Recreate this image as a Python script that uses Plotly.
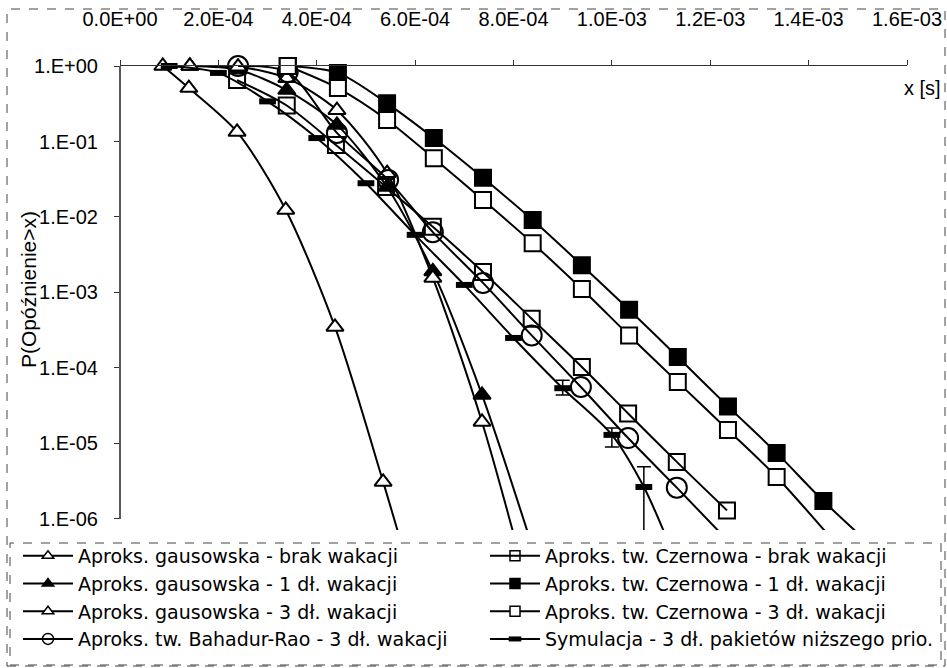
import plotly.graph_objects as go

# x values in units of 1E-4 s
gaus_brak_x = [0.87, 1.40, 2.38, 3.37, 4.37, 5.35, 6.34]
gaus_brak_y = [1.0, 0.51, 0.134, 0.0124, 3.5e-4, 3.1e-6, 1.9e-8]

gaus_1dl_x = [1.42, 2.40, 3.39, 4.41, 5.43, 6.36, 7.36, 8.35]
gaus_1dl_y = [1.0, 0.89, 0.48, 0.166, 0.025, 1.9e-3, 4.4e-5, 5.0e-7]

gaus_3dl_x = [1.42, 2.40, 3.39, 4.41, 5.43, 6.36, 7.36, 8.35]
gaus_3dl_y = [1.0, 0.98, 0.69, 0.26, 0.038, 1.56e-3, 1.93e-5, 9.0e-8]

br_3dl_x = [2.40, 3.41, 4.41, 5.45, 6.36, 7.38, 8.37, 9.37, 10.33, 11.32, 12.34]
br_3dl_y = [1.0, 0.83, 0.13, 0.031, 6.3e-3, 1.34e-3, 2.7e-4, 5.6e-5, 1.18e-5, 2.6e-6, 5.3e-7]

cz_brak_x = [2.38, 3.39, 4.39, 5.41, 6.36, 7.38, 8.37, 9.39, 10.33, 11.32, 12.34]
cz_brak_y = [0.65, 0.30, 0.090, 0.025, 7.4e-3, 1.87e-3, 4.5e-4, 1.03e-4, 2.5e-5, 5.7e-6, 1.3e-6]

cz_1dl_x = [3.41, 4.43, 5.43, 6.38, 7.38, 8.39, 9.39, 10.35, 11.34, 12.36, 13.35, 14.30, 15.30]
cz_1dl_y = [1.0, 0.81, 0.32, 0.111, 0.033, 9.1e-3, 2.3e-3, 5.9e-4, 1.4e-4, 3.1e-5, 7.5e-6, 1.73e-6, 4.3e-7]

cz_3dl_x = [3.41, 4.43, 5.43, 6.38, 7.38, 8.39, 9.39, 10.35, 11.34, 12.36, 13.35, 14.35]
cz_3dl_y = [1.0, 0.51, 0.193, 0.060, 0.0168, 4.5e-3, 1.11e-3, 2.7e-4, 6.5e-5, 1.51e-5, 3.6e-6, 6.7e-7]

sim_x = [1.0, 2.0, 3.0, 4.0, 5.0, 6.0, 7.0, 8.0, 9.0, 10.0, 10.65, 11.15]
sim_y = [1.0, 0.81, 0.34, 0.111, 0.028, 5.8e-3, 1.26e-3, 2.5e-4, 5.4e-5, 1.30e-5, 2.65e-6, 4.9e-7]
sim_err_plus = [None, None, None, None, None, None, None, None, 1.5e-5, 3.0e-6, 2.25e-6, None]
sim_err_minus = [None, None, None, None, None, None, None, None, 1.0e-5, 4.0e-6, 2.64e-6, None]

x_ticks = [0, 2e-4, 4e-4, 6e-4, 8e-4, 1e-3, 1.2e-3, 1.4e-3, 1.6e-3]
x_tick_labels = ["0.0E+00", "2.0E-04", "4.0E-04", "6.0E-04", "8.0E-04",
                 "1.0E-03", "1.2E-03", "1.4E-03", "1.6E-03"]
y_ticks = [1, 1e-1, 1e-2, 1e-3, 1e-4, 1e-5, 1e-6]
y_tick_labels = ["1.E+00", "1.E-01", "1.E-02", "1.E-03", "1.E-04", "1.E-05", "1.E-06"]

YMIN_LOG = -6.146
CLEAR = "rgba(0,0,0,0)"

fig = go.Figure()


def add_series(x, y, name, leg, rank, symbol, size, lsize, fill, mlw=2, ep=None, em=None):
    xs = [v * 1e-4 for v in x]
    err = None
    if ep is not None:
        err = dict(type="data", array=ep, arrayminus=em, symmetric=False,
                   color="black", thickness=1.5, width=7)
    line = dict(color="black", width=2, shape="spline", smoothing=0.8)
    fig.add_trace(go.Scatter(x=xs, y=y, mode="lines", line=line, error_y=err,
                             hoverinfo="skip", showlegend=False))
    # markers only for points that sit inside the axis range
    vx = [a for a, b in zip(xs, y) if b >= 1e-6]
    vy = [b for b in y if b >= 1e-6]
    marker = dict(symbol=symbol, size=size, color=fill,
                  line=dict(color="black", width=mlw))
    fig.add_trace(go.Scatter(x=vx, y=vy, mode="markers", marker=marker,
                             cliponaxis=False, showlegend=False))
    # legend entry (smaller symbol, like the Excel key)
    lmarker = dict(symbol=symbol, size=lsize, color=fill,
                   line=dict(color="black", width=min(mlw, 5) if mlw > 2 else 1.5))
    fig.add_trace(go.Scatter(x=[None], y=[None], mode="lines+markers",
                             line=dict(color="black", width=2), marker=lmarker,
                             name=name, legend=leg, legendrank=rank))


add_series(gaus_brak_x, gaus_brak_y, "Aproks. gausowska - brak wakacji", "legend", 1,
           "triangle-up", 15, 10, "white")
add_series(gaus_1dl_x, gaus_1dl_y, "Aproks. gausowska - 1 dł. wakacji", "legend", 2,
           "triangle-up", 15, 10, "black")
add_series(gaus_3dl_x, gaus_3dl_y, "Aproks. gausowska - 3 dł. wakacji", "legend", 3,
           "triangle-up", 15, 10, "white")
add_series(br_3dl_x, br_3dl_y, "Aproks. tw. Bahadur-Rao - 3 dł. wakacji", "legend", 4,
           "circle", 20, 11, CLEAR)
add_series(cz_brak_x, cz_brak_y, "Aproks. tw. Czernowa - brak wakacji", "legend2", 1,
           "square", 16, 10, CLEAR)
add_series(cz_1dl_x, cz_1dl_y, "Aproks. tw. Czernowa - 1 dł. wakacji", "legend2", 2,
           "square", 16, 10, "black")
add_series(cz_3dl_x, cz_3dl_y, "Aproks. tw. Czernowa - 3 dł. wakacji", "legend2", 3,
           "square", 16, 10, "white")
add_series(sim_x, sim_y, "Symulacja - 3 dł. pakietów niższego prio.", "legend2", 4,
           "line-ew", 12, 9, "black", mlw=6, ep=sim_err_plus, em=sim_err_minus)

tick_font = dict(family="Liberation Sans, Arial", size=20, color="black")

fig.update_xaxes(range=[0, 1.6e-3], side="top", tickvals=x_ticks, ticktext=x_tick_labels,
                 showline=True, linecolor="#333", linewidth=1, ticks="outside", ticklen=5,
                 tickcolor="#333", tickfont=tick_font, showgrid=False, zeroline=False,
                 ticklabelstandoff=26)
fig.update_yaxes(type="log", range=[YMIN_LOG, 0], tickvals=y_ticks, ticktext=y_tick_labels,
                 showline=False, ticks="outside", ticklen=5, tickcolor="#333",
                 tickfont=tick_font, showgrid=False, zeroline=False, ticklabelstandoff=12)

W, H = 947, 668
ML, MR, MT, MB = 120, 40, 66, 138
PW, PH = W - ML - MR, H - MT - MB


def px(xp):
    return (xp - ML) / PW


def py(yp):
    return (H - MB - yp) / PH


shapes = [
    # left axis line only down to 1E-06
    dict(type="line", xref="paper", x0=0, x1=0, yref="y domain",
         y0=(-6 - YMIN_LOG) / (-YMIN_LOG), y1=1, line=dict(color="#222", width=1.5)),
    # legend frame
    dict(type="rect", xref="paper", yref="paper", x0=px(10), x1=px(941),
         y0=py(665), y1=py(543), line=dict(color="#444", width=1, dash="dash")),
    # outer frame
    dict(type="rect", xref="paper", yref="paper", x0=px(7), x1=px(945),
         y0=py(666), y1=py(9), line=dict(color="#444", width=1, dash="dash")),
]

annotations = [
    dict(text="P(Opóźnienie>x)", textangle=-90, xref="paper", yref="paper",
         x=px(28), y=py(290), xanchor="center", yanchor="middle", showarrow=False,
         font=dict(family="Liberation Sans, Arial", size=21, color="black")),
    dict(text="x [s]", xref="paper", yref="paper", x=px(943), y=py(88),
         xanchor="right", yanchor="middle", showarrow=False,
         font=dict(family="Liberation Sans, Arial", size=20, color="black")),
]

leg_font = dict(family="DejaVu Sans", size=19, color="black")
leg_common = dict(orientation="v", xanchor="left", yanchor="top", font=leg_font,
                  itemwidth=50, itemsizing="trace", bgcolor=CLEAR, borderwidth=0,
                  traceorder="normal")

fig.update_layout(
    width=W, height=H, autosize=False,
    margin=dict(l=ML, r=MR, t=MT, b=MB, autoexpand=False),
    plot_bgcolor="white", paper_bgcolor="white",
    shapes=shapes, annotations=annotations,
    showlegend=True,
    legend=dict(x=px(18), y=py(537), **leg_common),
    legend2=dict(x=px(485), y=py(537), **leg_common),
    hovermode=False,
)

# drop the default page margin so the figure sits at the window's corner
fig.write_html("out.html", config={"displayModeBar": False},
               post_script="document.body.style.margin = '0';")
